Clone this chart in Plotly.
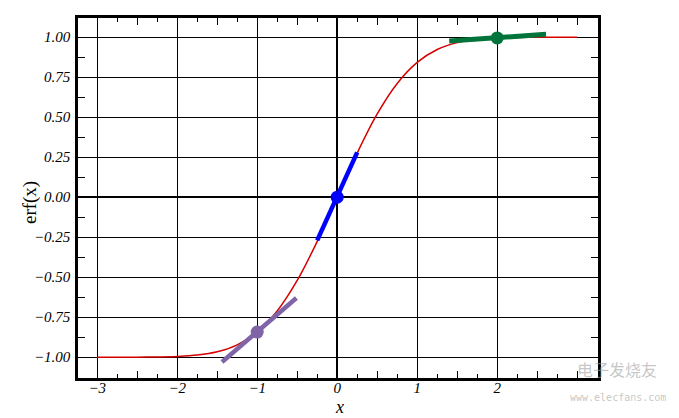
import plotly.graph_objects as go

# erf(x) curve samples
x_curve = [-3.0, -2.75, -2.5, -2.25, -2.0, -1.75, -1.5, -1.25, -1.0, -0.75, -0.5, -0.25,
           0.0, 0.25, 0.5, 0.75, 1.0, 1.25, 1.5, 1.75, 2.0, 2.25, 2.5, 2.75, 3.0]
y_curve = [-1.0, -0.9999, -0.9996, -0.9985, -0.9953, -0.9867, -0.9661, -0.9229, -0.8427,
           -0.7112, -0.5205, -0.2763, 0.0, 0.2763, 0.5205, 0.7112, 0.8427, 0.9229, 0.9661,
           0.9867, 0.9953, 0.9985, 0.9996, 0.9999, 1.0]

# tangent segments
tan_purple_x = [-1.44, -0.51]
tan_purple_y = [-1.03, -0.63]
tan_blue_x = [-0.25, 0.25]
tan_blue_y = [-0.27, 0.28]
tan_green_x = [1.4, 2.61]
tan_green_y = [0.976, 1.018]

# tangent points
pt_x = [-1.0, 0.0, 2.0]
pt_y = [-0.8427, 0.0, 0.9953]
pt_colors = ["#8064a8", "#0000ff", "#00743a"]

x_ticks = [-3, -2, -1, 0, 1, 2]
x_labels = ["\u22123", "\u22122", "\u22121", "0", "1", "2"]
y_ticks = [-1.0, -0.75, -0.5, -0.25, 0.0, 0.25, 0.5, 0.75, 1.0]
y_labels = ["\u22121.00", "\u22120.75", "\u22120.50", "\u22120.25", "0.00", "0.25", "0.50", "0.75", "1.00"]

fig = go.Figure()
fig.add_trace(go.Scatter(x=x_curve, y=y_curve, mode="lines", line=dict(color="#d40000", width=1.5, shape="spline"), showlegend=False))
fig.add_trace(go.Scatter(x=tan_purple_x, y=tan_purple_y, mode="lines", line=dict(color="#8064a8", width=4.5), showlegend=False))
fig.add_trace(go.Scatter(x=tan_blue_x, y=tan_blue_y, mode="lines", line=dict(color="#0000ff", width=4.5), showlegend=False))
fig.add_trace(go.Scatter(x=tan_green_x, y=tan_green_y, mode="lines", line=dict(color="#00743a", width=5), showlegend=False))
fig.add_trace(go.Scatter(x=pt_x, y=pt_y, mode="markers", marker=dict(color=pt_colors, size=13, line=dict(width=0)), showlegend=False))
# helper trace so the secondary tick axis is drawn
fig.add_trace(go.Scatter(x=[0], y=[0], xaxis="x2", yaxis="y", mode="markers", marker=dict(opacity=0), hoverinfo="skip", showlegend=False))

tickfont = dict(family="Liberation Serif", size=15, color="black", style="italic")
XR = [-3.24, 3.26]
YR = [-1.13, 1.12]

fig.update_layout(
    width=671, height=410,
    margin=dict(l=70, r=81, t=10, b=40, autoexpand=False),
    paper_bgcolor="white", plot_bgcolor="white",
    xaxis=dict(range=XR, tickvals=x_ticks, ticktext=x_labels, automargin=False,
               showgrid=True, gridcolor="black", gridwidth=1,
               zeroline=True, zerolinecolor="black", zerolinewidth=2,
               showline=True, linecolor="black", linewidth=2.5, mirror="allticks",
               ticks="inside", ticklen=7, tickcolor="black", tickwidth=1,
               minor=dict(dtick=0.25, tick0=0, ticks="inside", ticklen=4, tickcolor="black", showgrid=False),
               tickfont=tickfont, ticklabelstandoff=-6),
    xaxis2=dict(range=XR, overlaying="x", side="bottom", dtick=0.5, tick0=0, showticklabels=False,
                showgrid=False, zeroline=False, showline=False, mirror="allticks",
                ticks="inside", ticklen=7, tickcolor="black"),
    yaxis=dict(range=YR, tickvals=y_ticks, ticktext=y_labels, automargin=False,
               showgrid=True, gridcolor="black", gridwidth=1,
               zeroline=True, zerolinecolor="black", zerolinewidth=2,
               showline=True, linecolor="black", linewidth=2.5, mirror="allticks",
               ticks="inside", ticklen=7, tickcolor="black", tickwidth=1,
               minor=dict(dtick=0.125, tick0=0, ticks="inside", ticklen=5, tickcolor="black", showgrid=False),
               tickfont=tickfont, ticklabelstandoff=2),
)
# axis titles
fig.add_annotation(text="erf(x)", xref="paper", yref="paper", x=-0.0923, y=0.486, textangle=-90,
                   xanchor="center", yanchor="middle", showarrow=False,
                   font=dict(family="Liberation Serif", size=19, color="black"))
fig.add_annotation(text="x", xref="paper", yref="paper", x=0.502, y=-0.081,
                   xanchor="center", yanchor="middle", showarrow=False,
                   font=dict(family="Liberation Serif", size=18, color="black", style="italic"))
# watermark
fig.add_annotation(text="电子发烧友", xref="paper", yref="paper", x=1.118, y=-0.015, showarrow=False,
                   font=dict(family="Noto Sans CJK SC", size=16, color="rgba(160,160,160,0.6)"))
fig.add_annotation(text="www.elecfans.com", xref="paper", yref="paper", x=1.135, y=-0.075, showarrow=False,
                   font=dict(family="DejaVu Sans Mono", size=10, color="rgba(160,160,160,0.6)"))

fig.write_html("out.html")
